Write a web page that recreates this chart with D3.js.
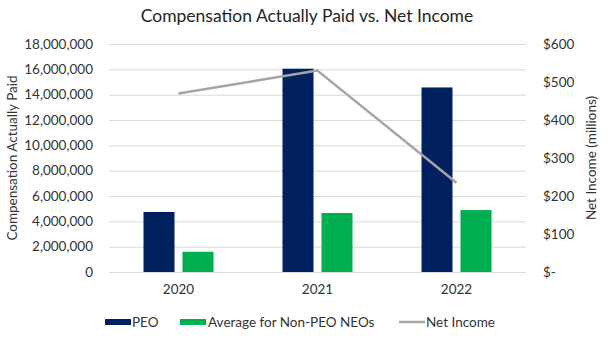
<!DOCTYPE html>
<html><head><meta charset="utf-8">
<script src="https://cdn.jsdelivr.net/npm/d3@7"></script>
<style>body{margin:0;background:#fff}svg{display:block;font-family:Lato,"Open Sans",sans-serif}</style>
</head><body><svg id="c" width="612" height="337"></svg>
<script>
const years = ["2020","2021","2022"];
const peo = [4740000, 16050000, 14570000];
const neo = [1600000, 4660000, 4890000];
const netIncome = [470, 530, 235];
const leftTicks = [0,2000000,4000000,6000000,8000000,10000000,12000000,14000000,16000000,18000000];
const rightTicks = [0,100,200,300,400,500,600];

const svg = d3.select("#c");
const x0 = 109, x1 = 526, yTop = 44, yBot = 272;
const x = d3.scaleBand().domain(years).range([x0, x1]);
const yL = d3.scaleLinear().domain([0, 18000000]).range([yBot, yTop]);
const yR = d3.scaleLinear().domain([0, 600]).range([yBot, yTop]);
const txt = "#333333";
const fs = 13.5;

// gridlines
svg.append("g").selectAll("line").data(leftTicks).join("line")
  .attr("x1", x0).attr("x2", x1).attr("y1", d=>yL(d)+0.5).attr("y2", d=>yL(d)+0.5)
  .attr("stroke", "#d9d9d9").attr("stroke-width", 1);

// left axis
const fmt = d3.format(",");
const gl = svg.append("g").attr("transform", `translate(93,0)`)
  .call(d3.axisLeft(yL).tickValues(leftTicks).tickFormat(d=>fmt(d)).tickSize(0).tickPadding(0));
gl.select(".domain").remove();
gl.selectAll("text").attr("font-size", fs).attr("fill", txt).attr("font-family", "Lato");

// right axis
const gr = svg.append("g").attr("transform", `translate(543,0)`)
  .call(d3.axisRight(yR).tickValues(rightTicks).tickFormat(d=> d===0 ? "$-" : "$"+d).tickSize(0).tickPadding(0));
gr.select(".domain").remove();
gr.selectAll("text").attr("font-size", fs).attr("fill", txt).attr("font-family", "Lato");

// x axis
const gx = svg.append("g").attr("transform", `translate(0,${yBot+12})`)
  .call(d3.axisBottom(x).tickSize(0).tickPadding(0));
gx.select(".domain").remove();
gx.selectAll("text").attr("font-size", fs).attr("fill", txt).attr("font-family", "Lato");

// bars
const bw = 31, off = 19.5;
svg.append("g").selectAll("rect").data(years).join("rect")
  .attr("x", d=>x(d)+x.bandwidth()/2-off-bw/2).attr("width", bw)
  .attr("y", (d,i)=>yL(peo[i])).attr("height", (d,i)=>yBot-yL(peo[i]))
  .attr("fill", "#002060");
svg.append("g").selectAll("rect").data(years).join("rect")
  .attr("x", d=>x(d)+x.bandwidth()/2+off-bw/2).attr("width", bw)
  .attr("y", (d,i)=>yL(neo[i])).attr("height", (d,i)=>yBot-yL(neo[i]))
  .attr("fill", "#00b050");

// line
const line = d3.line().x((d,i)=>x(years[i])+x.bandwidth()/2).y(d=>yR(d));
svg.append("path").datum(netIncome).attr("d", line)
  .attr("fill", "none").attr("stroke", "#a5a5a5").attr("stroke-width", 2.5).attr("stroke-linejoin","round");

// title
svg.append("text").attr("x", 307).attr("y", 22).attr("text-anchor", "middle")
  .attr("font-size", 17.5).attr("fill", "#262626").attr("font-family", "Lato")
  .text("Compensation Actually Paid vs. Net Income");

// axis titles
svg.append("text").attr("transform", `translate(17,${(yTop+yBot)/2}) rotate(-90)`)
  .attr("text-anchor", "middle").attr("font-size", fs).attr("fill", txt).attr("font-family","Lato")
  .text("Compensation Actually Paid");
svg.append("text").attr("transform", `translate(596,${(yTop+yBot)/2}) rotate(-90)`)
  .attr("text-anchor", "middle").attr("font-size", fs).attr("fill", txt).attr("font-family","Lato")
  .text("Net Income (millions)");

// legend
const ly = 322;
const lg = svg.append("g").attr("font-family","Lato");
lg.append("rect").attr("x", 105).attr("y", ly-3).attr("width", 26).attr("height", 6).attr("fill", "#002060");
lg.append("text").attr("x", 132).attr("y", ly).attr("dy","0.35em").attr("font-size", fs).attr("fill", txt).text("PEO");
lg.append("rect").attr("x", 180).attr("y", ly-3).attr("width", 26).attr("height", 6).attr("fill", "#00b050");
lg.append("text").attr("x", 208).attr("y", ly).attr("dy","0.35em").attr("font-size", fs).attr("fill", txt).text("Average for Non-PEO NEOs");
lg.append("line").attr("x1", 399).attr("x2", 425).attr("y1", ly).attr("y2", ly).attr("stroke", "#a5a5a5").attr("stroke-width", 2.5);
lg.append("text").attr("x", 426).attr("y", ly).attr("dy","0.35em").attr("font-size", fs).attr("fill", txt).text("Net Income");
</script></body></html>
